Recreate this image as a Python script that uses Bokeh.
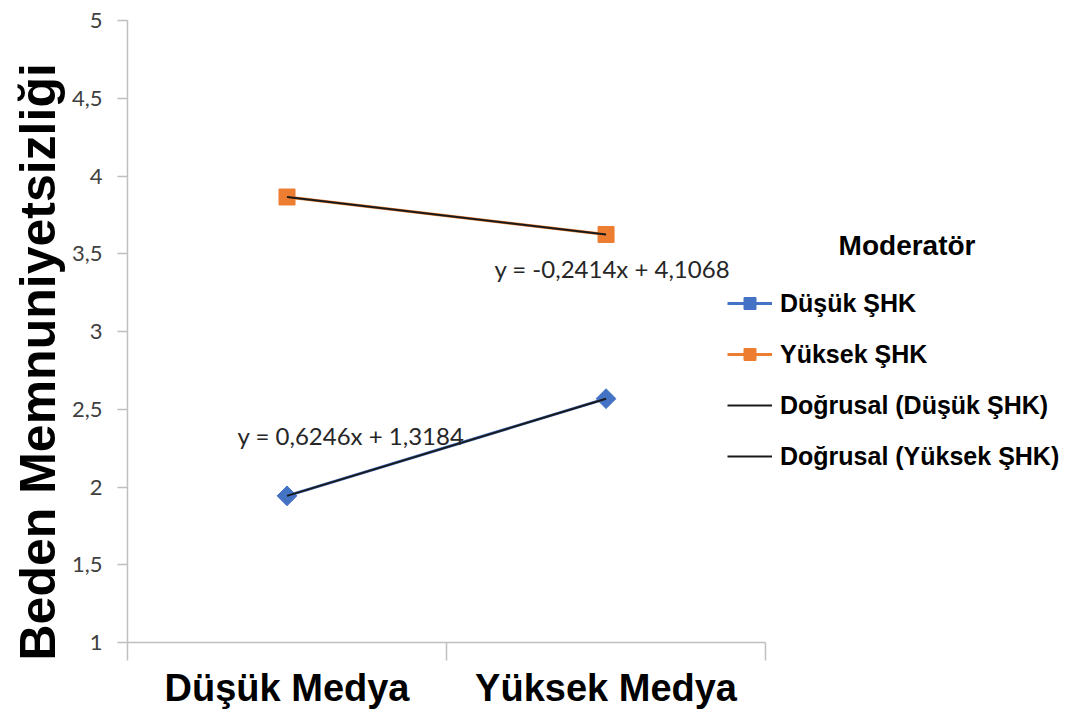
import numpy as np
from bokeh.plotting import figure
from bokeh.models import FixedTicker, Legend, LegendItem, Label, Range1d, Title
from bokeh.embed import file_html
from bokeh.resources import INLINE

# ---- data ----
categories = ["Düşük Medya", "Yüksek Medya"]
low_shk = [1.943, 2.568]
high_shk = [3.865, 3.624]
series_names = ["Düşük ŞHK", "Yüksek ŞHK"]
trend_names = ["Doğrusal (Düşük ŞHK)", "Doğrusal (Yüksek ŞHK)"]
equations = ["y = 0,6246x + 1,3184", "y = -0,2414x + 4,1068"]
y_ticks = [1, 1.5, 2, 2.5, 3, 3.5, 4, 4.5, 5]
y_tick_labels = ["1", "1,5", "2", "2,5", "3", "3,5", "4", "4,5", "5"]
legend_title = "Moderatör"
y_title = "Beden Memnuniyetsizliği"

n = len(categories)
xc = [i + 0.5 for i in range(n)]          # category centres
xi = np.arange(1, n + 1)                  # Excel x index used for the trend fit

p = figure(width=1071, height=717, output_backend="svg", toolbar_location=None,
           x_range=Range1d(0, 2.959), y_range=Range1d(1, 5),
           min_border_left=127, min_border_right=0,
           min_border_top=20, min_border_bottom=75)
p.grid.visible = False
p.outline_line_color = None
p.background_fill_color = "white"
p.border_fill_color = "white"

# x axis
xa = p.xaxis[0]
xa.ticker = FixedTicker(ticks=xc, minor_ticks=list(range(n + 1)))
xa.major_label_overrides = {x: c for x, c in zip(xc, categories)}
xa.bounds = (0, n)
xa.axis_line_color = "#bfbfbf"
xa.axis_line_width = 1.5
xa.major_tick_out = 0
xa.major_tick_in = 0
xa.minor_tick_out = 18
xa.minor_tick_in = 0
xa.minor_tick_line_color = "#bfbfbf"
xa.minor_tick_line_width = 1.5
xa.major_label_standoff = 6
xa.major_label_text_font = "Liberation Sans"
xa.major_label_text_font_style = "bold"
xa.major_label_text_font_size = "38px"
xa.major_label_text_color = "black"

# y axis
ya = p.yaxis[0]
ya.ticker = FixedTicker(ticks=y_ticks)
ya.major_label_overrides = {t: l for t, l in zip(y_ticks, y_tick_labels)}
ya.axis_line_color = "#bfbfbf"
ya.axis_line_width = 1.5
ya.major_tick_line_color = "#bfbfbf"
ya.major_tick_line_width = 1.5
ya.major_tick_out = 10
ya.major_tick_in = 0
ya.minor_tick_line_color = None
ya.major_label_standoff = 15
ya.major_label_text_font = "Lato"
ya.major_label_text_font_size = "22px"
ya.major_label_text_color = "#404040"

# y title (placed as a side title so it can be shifted like the reference)
p.add_layout(Title(text=y_title, align="left", offset=-18,
                   text_font="Liberation Sans", text_font_style="bold",
                   text_font_size="50px", text_color="black", standoff=6), "left")

# series
blue = "#4472C4"
orange = "#ED7D31"
l1 = p.line(xc, low_shk, line_color=blue, line_width=3)
m1 = p.scatter(xc, low_shk, marker="square", angle=np.pi / 4, size=14,
               fill_color=blue, line_color=blue)
l2 = p.line(xc, high_shk, line_color=orange, line_width=3)
m2 = p.scatter(xc, high_shk, marker="square", size=16,
               fill_color=orange, line_color=orange)

# linear trend lines (fit of each series)
trend_renderers = []
for vals in (low_shk, high_shk):
    k, b = np.polyfit(xi, vals, 1)
    t = p.line(xc, k * xi + b, line_color="#1a1a1a", line_width=2)
    trend_renderers.append(t)

# equation labels
eq_pos = [(0.345, 2.331), (1.150, 3.405)]
for (ex, ey), txt in zip(eq_pos, equations):
    p.add_layout(Label(x=ex, y=ey, text=txt, text_font="Lato",
                       text_font_size="24px", text_color="#262626",
                       text_baseline="middle"))

# legend
items = [LegendItem(label=series_names[0], renderers=[l1, m1]),
         LegendItem(label=series_names[1], renderers=[l2, m2]),
         LegendItem(label=trend_names[0], renderers=[trend_renderers[0]]),
         LegendItem(label=trend_names[1], renderers=[trend_renderers[1]])]
legend = Legend(items=items, location=(600, 171), orientation="vertical",
                label_text_font="Liberation Sans", label_text_font_style="bold",
                label_text_font_size="25px", label_text_color="black",
                glyph_width=45, glyph_height=30, label_height=30,
                label_standoff=8, spacing=21, padding=0, margin=0,
                border_line_color=None, background_fill_alpha=0)
p.add_layout(legend)

p.add_layout(Label(x=2.229, y=3.553, text=legend_title, text_font="Liberation Sans",
                   text_font_style="bold", text_font_size="28px",
                   text_color="black", text_baseline="middle"))

open("out.html", "w").write(file_html(p, INLINE))
